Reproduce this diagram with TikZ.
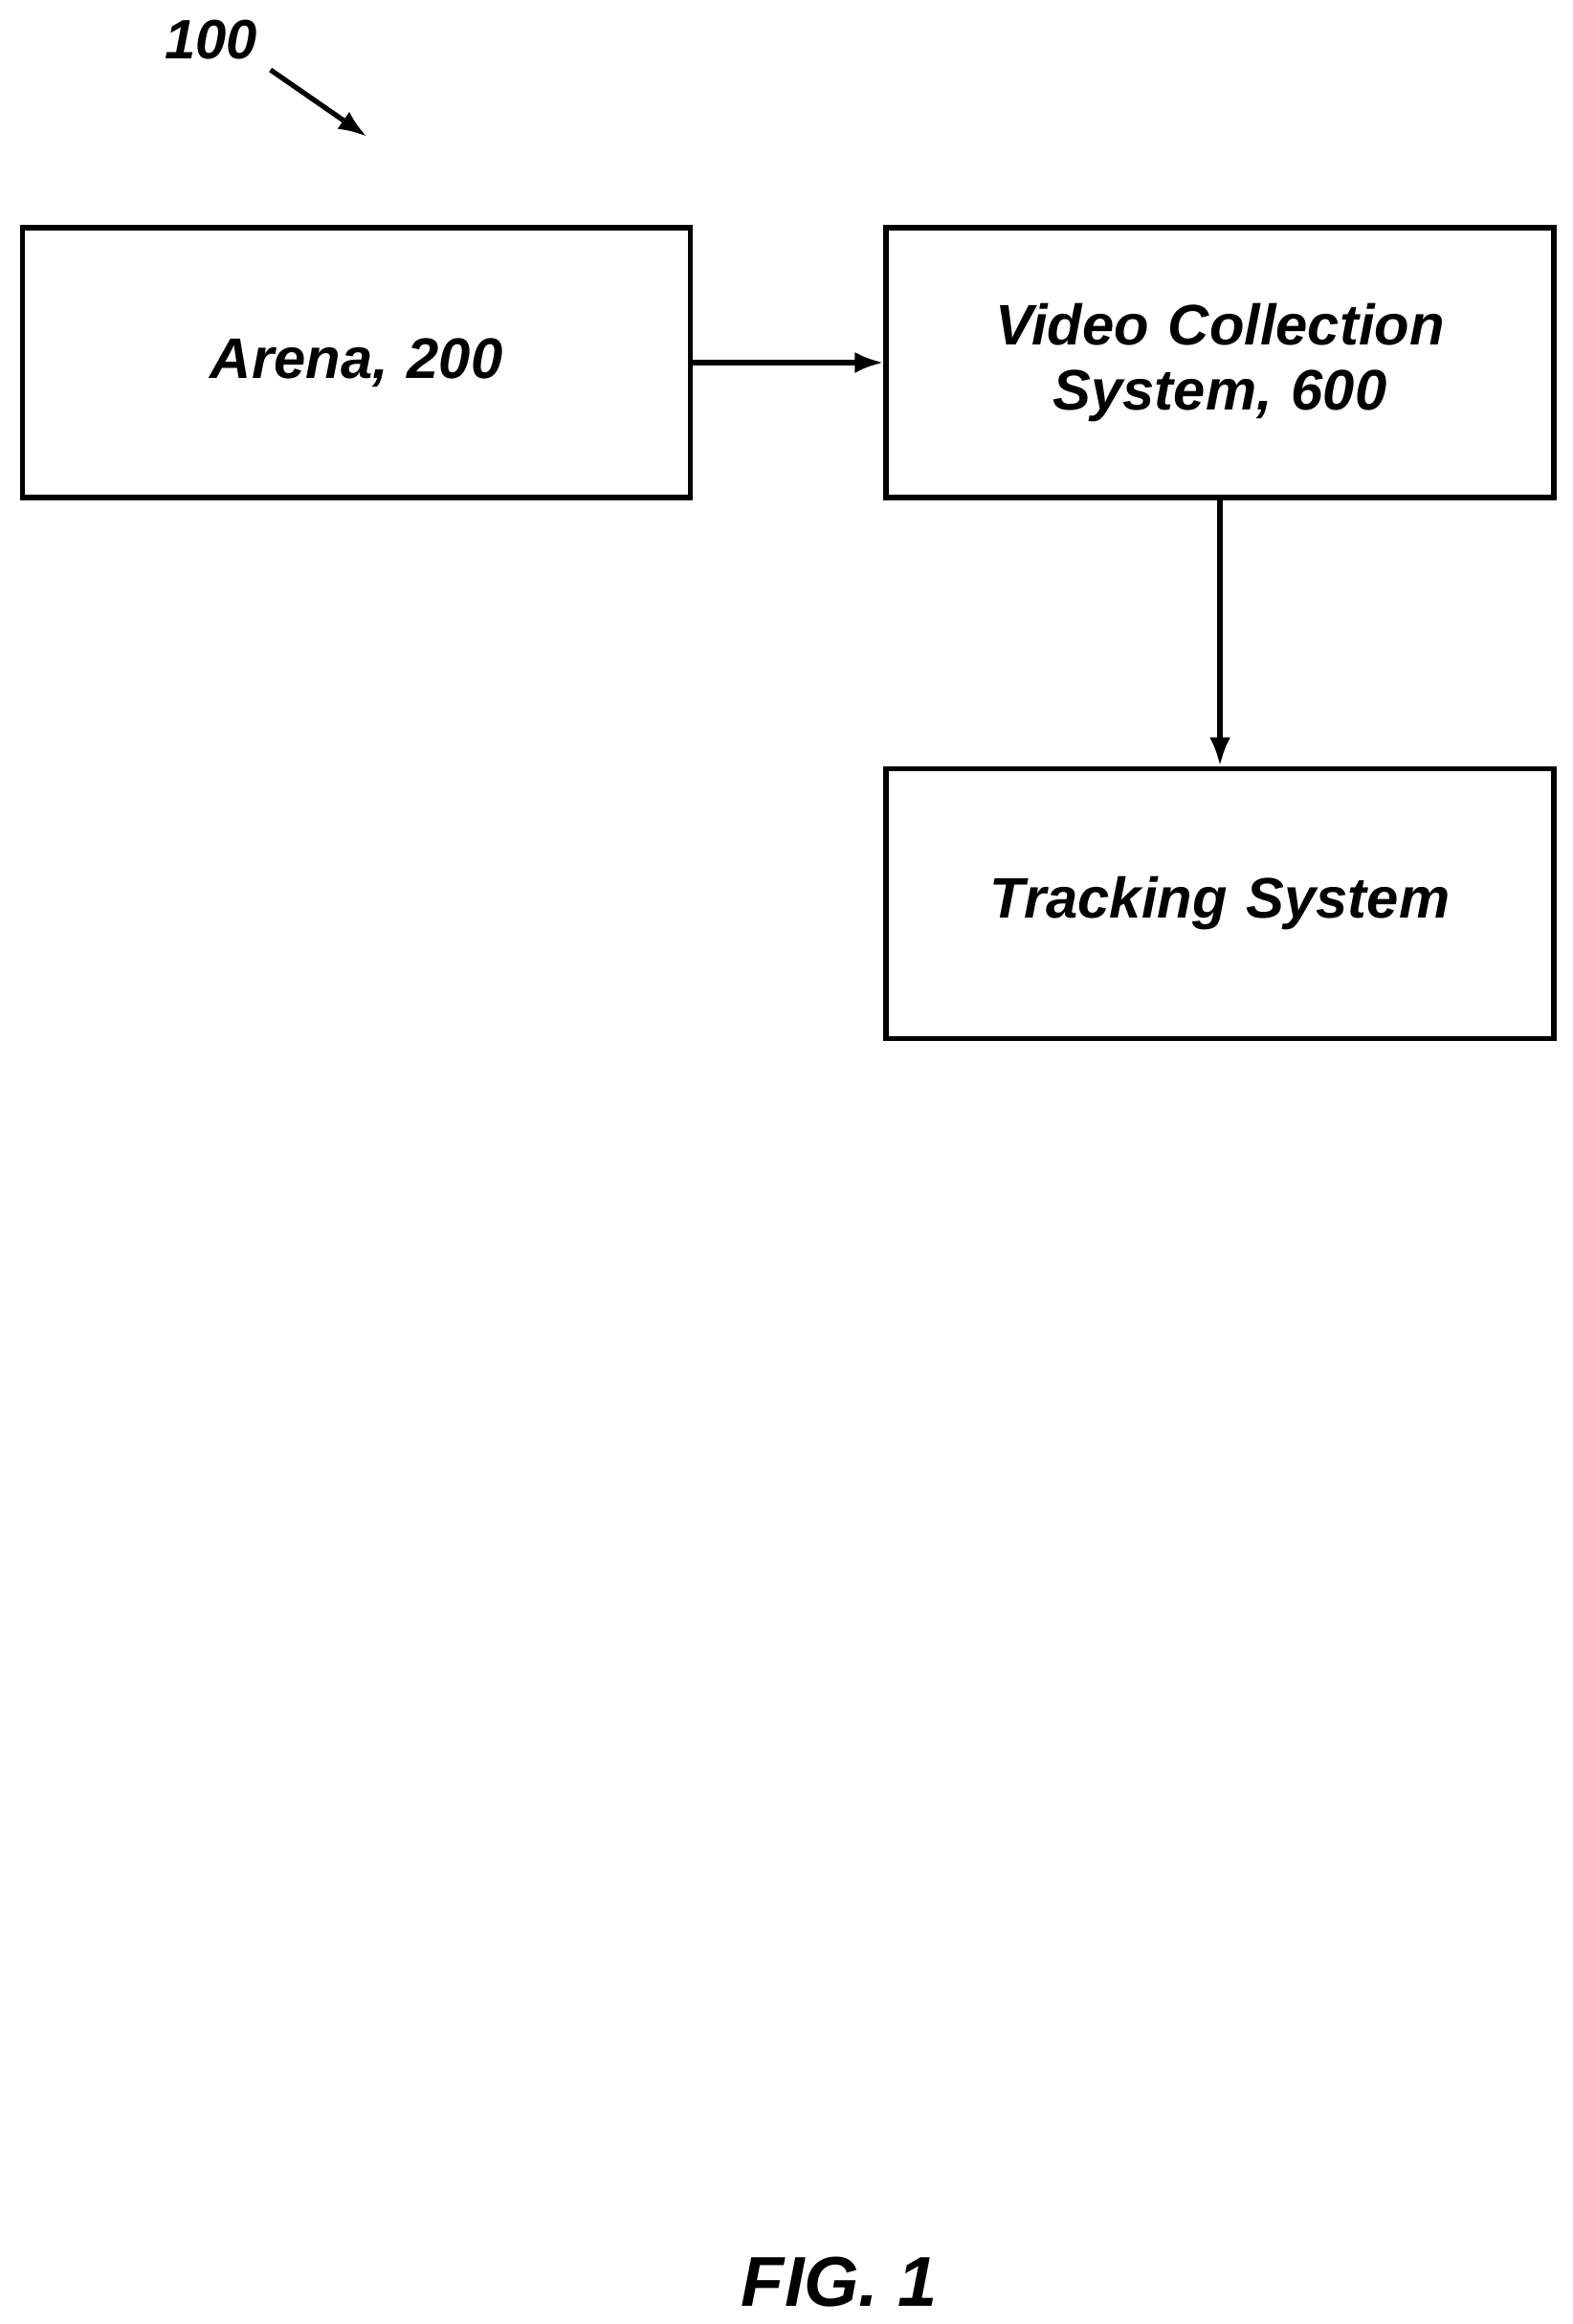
\documentclass[tikz,border=0pt]{standalone}
\usepackage{fontspec}
\setmainfont{Liberation Sans}
\usetikzlibrary{positioning,arrows.meta}
\begin{document}
\begin{tikzpicture}[x=0.01553cm, y=-0.01553cm, auto]
    \tikzset{>=latex}
    \useasboundingbox (0,0) rectangle (1058,1564);
    % Draw the blocks
    \tikzstyle{block} = [rectangle, minimum width = 6.98cm, minimum height = 2.82cm, text width = 6cm, align = center, draw = black, line width = 1.5pt, font = \fontsize{17}{19.5}\selectfont\bfseries\itshape]
    \tikzstyle{arrow} = [line width = 1.5pt, -{Latex[length=3mm,width=2.2mm]}]

    \node[block] (arena) at (240,244) {Arena, 200};
    \node[block] (video) at (821,244) {Video Collection\\System, 600};
    \node[block] (track) at (821,608) {Tracking System};

    \node[font = \fontsize{16.5}{19}\selectfont\bfseries\itshape] (ref) at (142,27) {100};
    \coordinate (refend) at (247,92);
    \node[font = \fontsize{21}{25}\selectfont\bfseries\itshape] (fig) at (565,1536) {FIG. 1};

    \draw[arrow] (182,47) -- (refend);
    \draw[arrow] (arena) -- (video);
    \draw[arrow] (video) -- (track);
\end{tikzpicture}
\end{document}
